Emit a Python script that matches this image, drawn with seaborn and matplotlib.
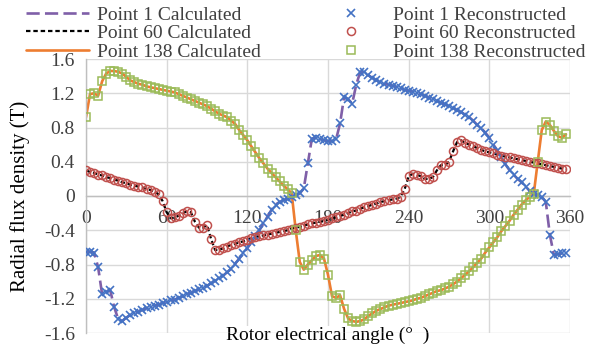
import numpy as np
import pandas as pd
import matplotlib
matplotlib.use("Agg")
import matplotlib.pyplot as plt
import seaborn as sns
from matplotlib.lines import Line2D

# ---------------- data ----------------
angles = list(range(0, 360, 3))  # rotor electrical angle, deg

point1 = [
    -0.65, -0.65, -0.66, -0.83, -1.15, -1.12, -1.10, -1.30, -1.44, -1.46,
    -1.42, -1.39, -1.37, -1.35, -1.33, -1.31, -1.30, -1.28, -1.27, -1.25,
    -1.24, -1.22, -1.21, -1.19, -1.17, -1.15, -1.13, -1.11, -1.09, -1.07,
    -1.05, -1.02, -0.99, -0.96, -0.93, -0.89, -0.85, -0.79, -0.73, -0.67,
    -0.61, -0.54, -0.47, -0.40, -0.32, -0.24, -0.16, -0.10, -0.07, -0.05,
    -0.03, -0.01, 0.01, 0.03, 0.09, 0.38, 0.67, 0.68, 0.66, 0.65,
    0.64, 0.64, 0.66, 0.85, 1.16, 1.13, 1.08, 1.30, 1.45, 1.45,
    1.41, 1.38, 1.35, 1.33, 1.31, 1.30, 1.29, 1.27, 1.26, 1.24,
    1.23, 1.22, 1.20, 1.19, 1.17, 1.15, 1.13, 1.11, 1.09, 1.07,
    1.05, 1.03, 1.00, 0.98, 0.95, 0.92, 0.88, 0.83, 0.79, 0.74,
    0.68, 0.60, 0.53, 0.45, 0.37, 0.30, 0.25, 0.20, 0.16, 0.11,
    0.06, 0.02, 0.01, -0.01, -0.07, -0.45, -0.69, -0.68, -0.67, -0.66,
]

point60 = [
    0.30, 0.28, 0.27, 0.25, 0.24, 0.22, 0.21, 0.19, 0.18, 0.16,
    0.15, 0.13, 0.12, 0.11, 0.10, 0.08, 0.07, 0.05, 0.02, -0.06,
    -0.19, -0.26, -0.25, -0.23, -0.20, -0.18, -0.19, -0.30, -0.37, -0.37,
    -0.34, -0.50, -0.63, -0.63, -0.61, -0.59, -0.57, -0.56, -0.54, -0.53,
    -0.51, -0.49, -0.48, -0.47, -0.46, -0.45, -0.44, -0.43, -0.42, -0.41,
    -0.40, -0.38, -0.37, -0.36, -0.35, -0.33, -0.32, -0.31, -0.30, -0.29,
    -0.28, -0.26, -0.25, -0.23, -0.22, -0.20, -0.18, -0.17, -0.15, -0.13,
    -0.12, -0.10, -0.09, -0.07, -0.06, -0.05, -0.04, -0.03, -0.01, 0.08,
    0.23, 0.26, 0.25, 0.23, 0.20, 0.20, 0.22, 0.30, 0.36, 0.36,
    0.40, 0.52, 0.63, 0.65, 0.62, 0.60, 0.58, 0.56, 0.54, 0.52,
    0.51, 0.50, 0.48, 0.47, 0.46, 0.45, 0.44, 0.43, 0.42, 0.41,
    0.40, 0.39, 0.38, 0.37, 0.36, 0.35, 0.34, 0.33, 0.32, 0.31,
]

point138 = [
    0.92, 1.19, 1.20, 1.17, 1.34, 1.43, 1.46, 1.46, 1.45, 1.43,
    1.39, 1.35, 1.33, 1.31, 1.30, 1.28, 1.27, 1.26, 1.25, 1.24,
    1.23, 1.22, 1.21, 1.19, 1.17, 1.15, 1.13, 1.11, 1.09, 1.07,
    1.05, 1.02, 0.99, 0.96, 0.94, 0.92, 0.88, 0.84, 0.77, 0.71,
    0.65, 0.58, 0.51, 0.44, 0.38, 0.32, 0.27, 0.22, 0.17, 0.12,
    0.08, 0.03, -0.40, -0.77, -0.86, -0.80, -0.75, -0.70, -0.69, -0.73,
    -0.92, -1.17, -1.19, -1.16, -1.32, -1.43, -1.46, -1.47, -1.46, -1.44,
    -1.40, -1.37, -1.34, -1.32, -1.30, -1.28, -1.27, -1.26, -1.25, -1.24,
    -1.23, -1.22, -1.20, -1.19, -1.17, -1.15, -1.13, -1.11, -1.10, -1.08,
    -1.06, -1.03, -1.00, -0.96, -0.92, -0.88, -0.83, -0.78, -0.73, -0.66,
    -0.60, -0.54, -0.48, -0.41, -0.35, -0.29, -0.22, -0.16, -0.10, -0.05,
    -0.01, 0.02, 0.40, 0.77, 0.87, 0.83, 0.76, 0.70, 0.68, 0.72,
]

x_ticks = [0, 60, 120, 180, 240, 300, 360]
x_tick_labels = ["0", "60", "120", "180", "240", "300", "360"]
y_ticks = [1.6, 1.2, 0.8, 0.4, 0.0, -0.4, -0.8, -1.2, -1.6]
y_tick_labels = ["1.6", "1.2", "0.8", "0.4", "0", "-0.4", "-0.8", "-1.2", "-1.6"]

calc_labels = ["Point 1 Calculated", "Point 60 Calculated", "Point 138 Calculated"]
recon_labels = ["Point 1 Reconstructed", "Point 60 Reconstructed", "Point 138 Reconstructed"]

# ---------------- styling ----------------
sns.set_theme(style="white")
plt.rcParams["font.family"] = ["Liberation Serif", "DejaVu Serif"]

FS = 14
C_PURPLE = "#7F5FA8"
C_BLACK = "#000000"
C_ORANGE = "#ED7D31"
C_BLUE = "#4472C4"
C_RED = "#C0504D"
C_GREEN = "#9BBB59"

fig = plt.figure(figsize=(6.02, 3.48), dpi=100)
ax = fig.add_axes([86 / 602, 1 - 333 / 348, 484 / 602, 274 / 348])

df = pd.DataFrame({"angle": angles, "p1": point1, "p60": point60, "p138": point138})

line_style = {
    "p1": dict(color=C_PURPLE, linestyle=(0, (5, 2)), linewidth=1.9),
    "p60": dict(color=C_BLACK, linestyle=(0, (2, 1.3)), linewidth=1.6),
    "p138": dict(color=C_ORANGE, linestyle="-", linewidth=1.9),
}
marker_style = {
    "p1": dict(marker="x", color=C_BLUE, markersize=5.5, markeredgewidth=1.2,
               markeredgecolor=C_BLUE),
    "p60": dict(marker="o", color=C_RED, markersize=5.8, markeredgewidth=1.1,
                markerfacecolor="none", markeredgecolor=C_RED),
    "p138": dict(marker="s", color=C_GREEN, markersize=6.0, markeredgewidth=1.1,
                 markerfacecolor="none", markeredgecolor=C_GREEN),
}

for key in ["p1", "p60", "p138"]:
    sns.lineplot(data=df, x="angle", y=key, ax=ax, errorbar=None, legend=False,
                 zorder=2, **line_style[key])
for key in ["p1", "p60", "p138"]:
    sns.lineplot(data=df, x="angle", y=key, ax=ax, errorbar=None, legend=False,
                 linestyle="none", zorder=3, **marker_style[key])

ax.set_xlim(0, 360)
ax.set_ylim(-1.6, 1.6)
ax.set_xticks(x_ticks)
ax.set_xticklabels(x_tick_labels)
ax.set_yticks(y_ticks)
ax.set_yticklabels(y_tick_labels)
ax.grid(True, color="#D9D9D9", linewidth=1.0)
ax.set_axisbelow(True)
for s in ["top", "right"]:
    ax.spines[s].set_visible(False)
ax.spines["bottom"].set_position(("data", 0))
ax.spines["bottom"].set_color("#BFBFBF")
ax.spines["left"].set_color("#BFBFBF")
ax.spines["bottom"].set_linewidth(1.0)
ax.spines["left"].set_linewidth(1.0)
ax.tick_params(axis="both", length=0, labelsize=FS, labelcolor="#404040")
ax.tick_params(axis="x", pad=10)
ax.tick_params(axis="y", pad=8)

ax.set_xlabel("Rotor electrical angle (°  )", fontsize=FS, color="black",
              bbox=dict(facecolor="white", edgecolor="none", pad=1.0))
ax.xaxis.set_label_coords(0.5, -0.026)
ax.xaxis.label.set_va("baseline")
ax.set_ylabel("Radial flux density (T)", fontsize=15, color="black")
ax.yaxis.set_label_coords(-66 / 484, 0.5)
ax.yaxis.label.set_va("center")

# ---------------- legends ----------------
calc_handles = [Line2D([], [], **line_style[k]) for k in ["p1", "p60", "p138"]]
recon_handles = [Line2D([], [], linestyle="none", **marker_style[k]) for k in ["p1", "p60", "p138"]]

leg1 = fig.legend(calc_handles, calc_labels, loc="upper left",
                  bbox_to_anchor=(26 / 602, 1 - 6 / 348), frameon=False, fontsize=FS,
                  handlelength=3.25, handletextpad=0.4, labelspacing=0.05,
                  borderpad=0.0, borderaxespad=0.0, labelcolor="#404040")
leg2 = fig.legend(recon_handles, recon_labels, loc="upper left",
                  bbox_to_anchor=(337 / 602, 1 - 6 / 348), frameon=False, fontsize=FS,
                  handlelength=1.4, handletextpad=1.5, labelspacing=0.05,
                  borderpad=0.0, borderaxespad=0.0, labelcolor="#404040")

fig.savefig("out.png", dpi=100)
